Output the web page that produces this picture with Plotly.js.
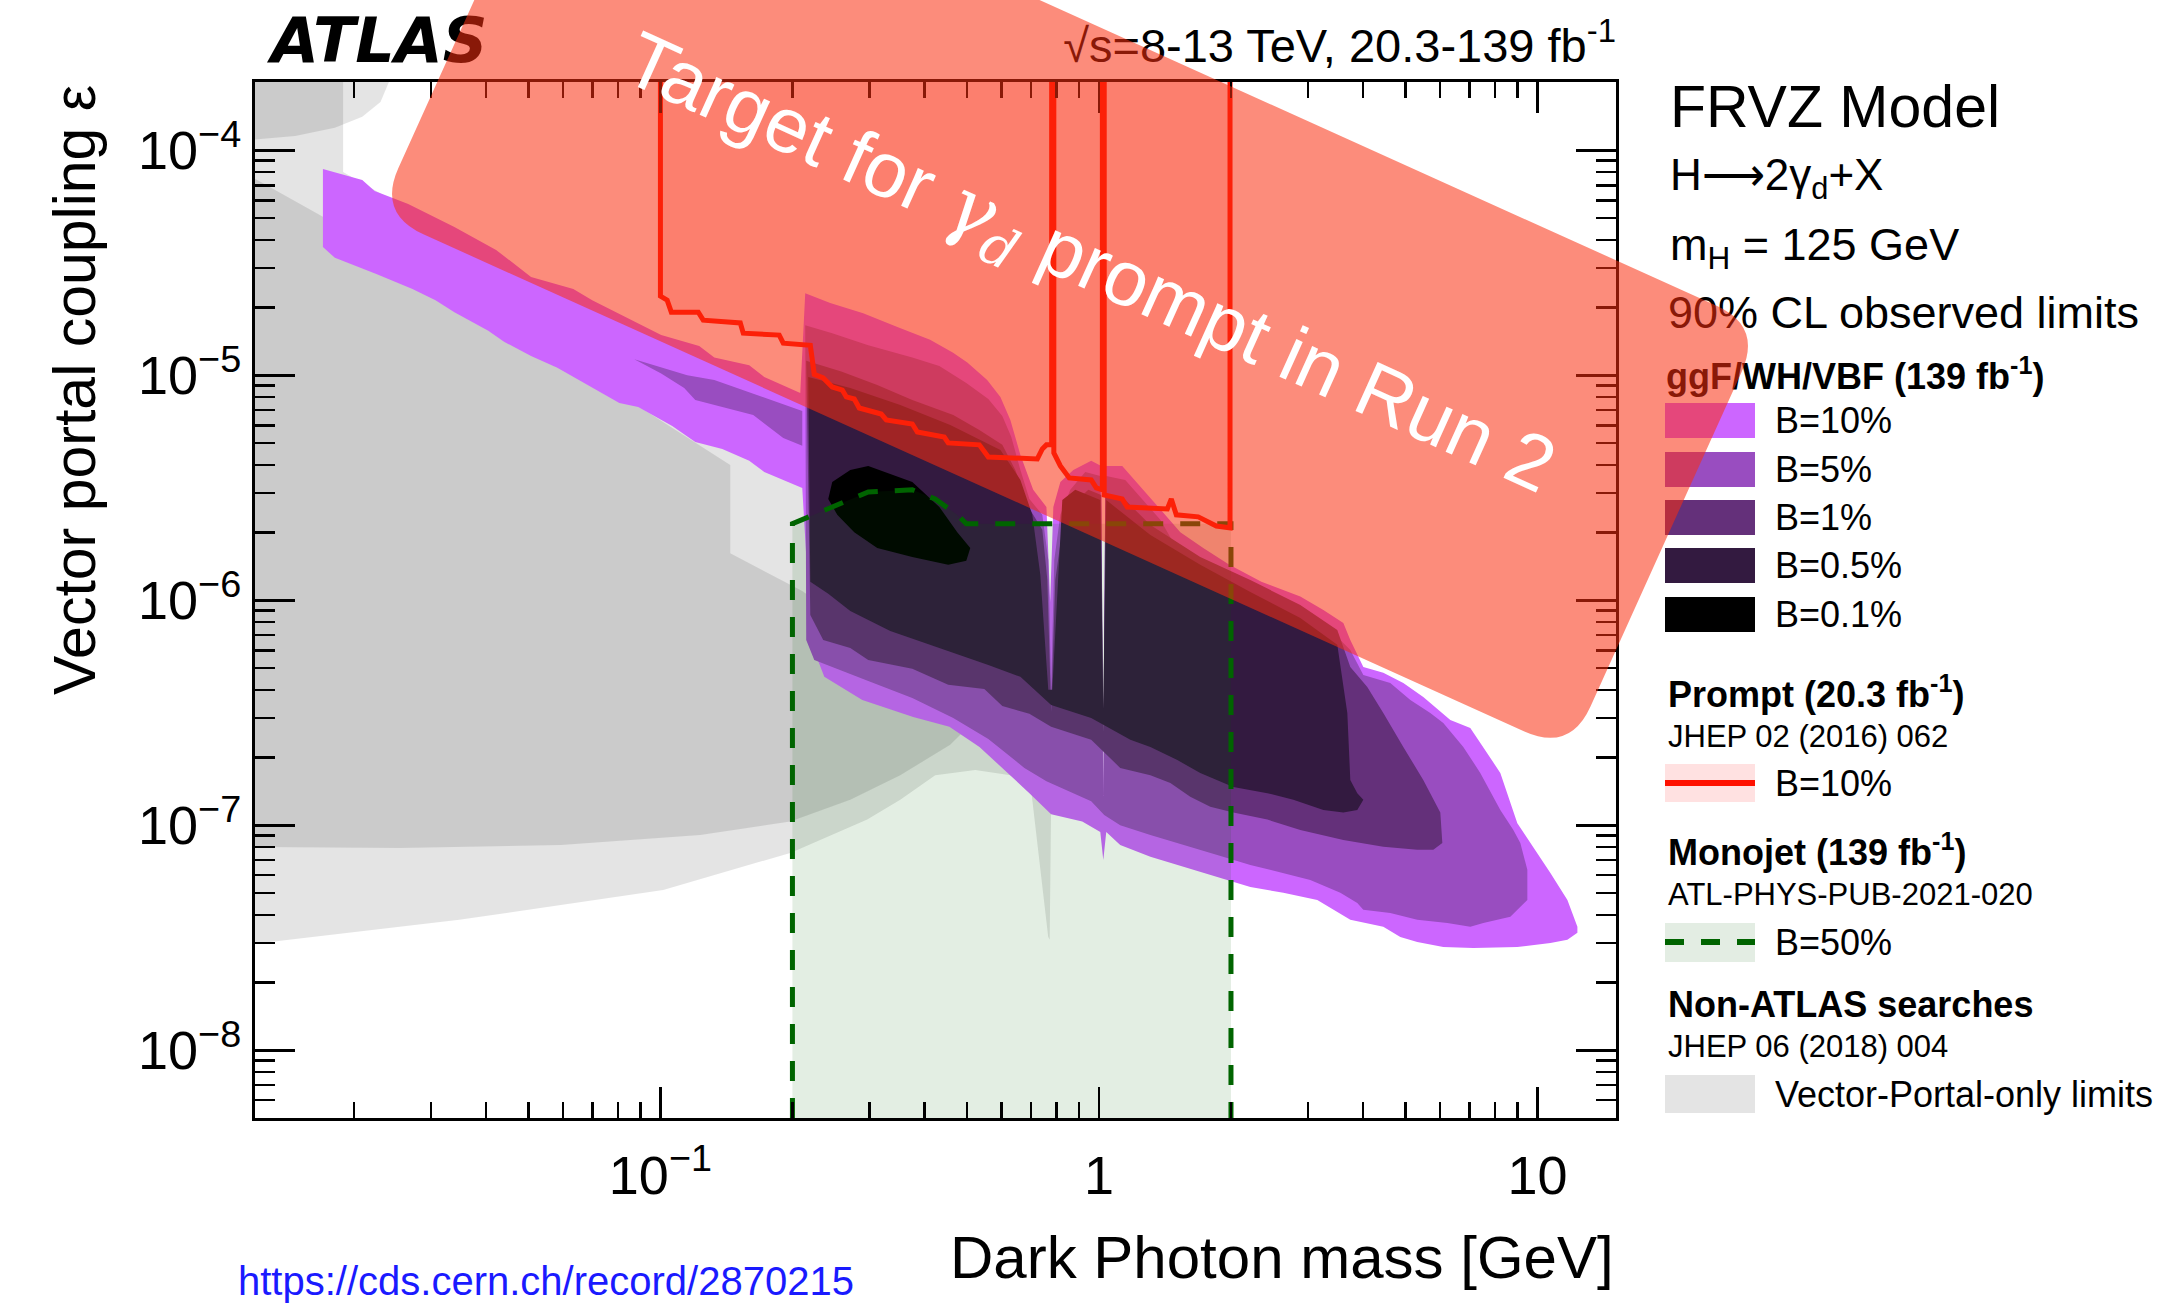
<!DOCTYPE html>
<html>
<head>
<meta charset="utf-8">
<script src="https://cdn.plot.ly/plotly-3.0.1.min.js"></script>
<style>html,body{margin:0;padding:0;background:#fff;}</style>
</head>
<body>
<div id="chart" style="width:2177px;height:1306px;"></div>
<script>
// ---------------- Exclusion contours (mass in GeV, kinetic mixing epsilon) ----------------
// ggF/WH/VBF, B = 10 %
const b10Mass = [0.0170,0.0209,0.0223,0.0266,0.0339,0.0422,0.0507,0.0633,0.0699,0.0854,0.1004,0.1226,0.1327,0.1594,0.1725,0.2084,
  0.2139,0.2439,0.290,0.347,0.412,0.465,0.501,0.556,0.596,0.628,0.662,0.708,0.759,0.774,0.787,0.8165,0.874,0.960,1.012,1.023,1.034,1.130,1.216,1.366,1.533,1.729,1.983,2.346,2.878,3.249,3.608,3.742,4.007,4.450,4.943,5.489,6.327,7.027,7.523,8.226,8.995,9.784,10.70,11.70,12.33,
  12.33,11.70,10.70,8.995,7.14,6.098,5.319,4.866,4.450,3.742,3.147,2.633,2.214,1.861,1.557,1.310,1.118,1.039,1.023,1.007,0.916,0.778,0.694,0.602,0.534,0.456,0.377,0.2886,0.2364,0.2208,0.2150,0.2106,
  0.1725,0.1594,0.1384,0.1201,0.1064,0.0890,0.0806,0.0699,0.0582,0.0507,0.0440,0.0405,0.0339,0.0307,0.0272,0.0225,0.0181,0.0170];
const b10Eps = [8.27e-5,7.39e-5,6.60e-5,5.78e-5,4.57e-5,3.61e-5,2.74e-5,2.42e-5,2.16e-5,1.78e-5,1.51e-5,1.35e-5,1.20e-5,1.11e-5,9.84e-6,8.35e-6,
  2.32e-5,2.10e-5,1.89e-5,1.64e-5,1.44e-5,1.26e-5,1.14e-5,9.54e-6,8.02e-6,6.34e-6,4.43e-6,3.10e-6,2.60e-6,9.84e-7,2.60e-6,3.36e-6,3.80e-6,4.17e-6,3.96e-6,1.30e-7,3.96e-6,3.96e-6,3.36e-6,2.60e-6,2.01e-6,1.71e-6,1.44e-6,1.21e-6,1.04e-6,9.07e-7,7.94e-7,6.67e-7,5.06e-7,4.76e-7,4.29e-7,3.72e-7,2.94e-7,2.71e-7,2.23e-7,1.71e-7,1.02e-7,8.02e-8,6.14e-8,4.66e-8,3.54e-8,
  3.33e-8,3.10e-8,3.00e-8,2.88e-8,2.85e-8,2.88e-8,3.03e-8,3.19e-8,3.54e-8,3.80e-8,4.66e-8,5.01e-8,5.32e-8,5.90e-8,6.53e-8,7.24e-8,8.18e-8,9.35e-8,7.02e-8,9.35e-8,1.04e-7,1.12e-7,1.39e-7,1.80e-7,2.23e-7,2.74e-7,3.03e-7,3.61e-7,4.57e-7,6.47e-7,1.51e-6,3.16e-6,
  3.72e-6,4.17e-6,4.71e-6,5.06e-6,5.96e-6,7.24e-6,7.54e-6,8.79e-6,1.08e-5,1.22e-5,1.41e-5,1.58e-5,1.91e-5,2.16e-5,2.42e-5,2.82e-5,3.33e-5,3.72e-5];

// B = 5 %: small low-mass island and main region
const b5IslandMass = [0.0872,0.1151,0.1327,0.1799,0.2106,0.2106,0.1906,0.1628,0.1201,0.1133,0.1004];
const b5IslandEps  = [1.18e-5,1.00e-5,9.54e-6,7.77e-6,6.95e-6,4.86e-6,5.27e-6,6.67e-6,7.77e-6,8.79e-6,1.02e-5];
const b5Mass = [0.2139,0.2465,0.2978,0.3753,0.4325,0.4983,0.5594,0.602,0.6311,0.662,0.694,0.7427,0.7663,0.778,0.7909,0.8165,0.8603,0.9307,1.007,1.023,
  1.039,1.148,1.242,1.380,1.557,1.861,2.214,2.633,3.033,3.423,3.742,4.007,4.616,5.129,5.695,6.098,6.773,7.404,8.226,8.808,9.137,9.480,
  9.480,8.670,7.523,7.027,6.229,5.319,4.616,4.007,3.882,3.551,3.033,2.633,2.214,1.861,1.557,1.310,1.118,1.028,0.960,0.759,0.676,0.5594,0.4653,0.3753,0.2978,0.2243,0.2150];
const b5Eps = [1.67e-5,1.54e-5,1.36e-5,1.20e-5,1.10e-5,9.25e-6,7.85e-6,6.60e-6,5.32e-6,3.80e-6,2.82e-6,2.40e-6,1.51e-6,4.0e-7,1.51e-6,2.40e-6,3.10e-6,3.72e-6,3.57e-6,1.35e-7,
  3.57e-6,3.43e-6,2.88e-6,2.28e-6,1.51e-6,1.27e-6,1.11e-6,9.35e-7,7.94e-7,7.16e-7,6.02e-7,4.66e-7,4.29e-7,3.61e-7,3.16e-7,2.85e-7,2.23e-7,1.71e-7,1.17e-7,9.54e-8,8.35e-8,6.34e-8,
  4.66e-8,3.92e-8,3.68e-8,3.54e-8,3.68e-8,3.80e-8,4.08e-8,4.21e-8,4.52e-8,5.01e-8,5.72e-8,6.14e-8,6.67e-8,7.38e-8,8.18e-8,9.06e-8,1.00e-7,1.11e-7,1.28e-7,1.57e-7,1.80e-7,2.42e-7,3.00e-7,3.68e-7,4.38e-7,5.43e-7,6.67e-7];

// B = 1 %
const b1Mass = [0.2150,0.2585,0.3122,0.3753,0.4653,0.5336,0.602,0.6445,0.6973,0.7427,0.7626,0.778,0.7951,0.8249,0.8694,0.9456,1.012,1.023,1.034,1.148,
  1.310,1.702,2.214,2.878,3.495,3.742,4.091,4.450,4.943,5.489,6.003,6.067,5.787,5.319,4.450,3.608,2.878,2.421,2.025,1.794,
  1.615,1.455,1.310,1.118,0.960,0.778,0.694,0.602,0.5478,0.4532,0.3753,0.2978,0.2710,0.2351,0.2197];
const b1Eps = [1.16e-5,1.04e-5,9.06e-6,7.77e-6,6.67e-6,5.72e-6,4.91e-6,3.80e-6,2.52e-6,2.06e-6,1.23e-6,3.2e-7,1.23e-6,2.06e-6,2.65e-6,3.10e-6,2.94e-6,2.6e-7,2.94e-6,2.79e-6,
  2.16e-6,1.56e-6,1.23e-6,9.54e-7,7.38e-7,5.06e-7,4.12e-7,3.16e-7,2.23e-7,1.59e-7,1.14e-7,8.35e-8,7.78e-8,7.78e-8,8.02e-8,8.61e-8,9.54e-8,1.06e-7,1.14e-7,1.21e-7,
  1.34e-7,1.54e-7,1.67e-7,1.80e-7,2.40e-7,2.74e-7,3.13e-7,3.39e-7,4.04e-7,4.21e-7,4.96e-7,5.43e-7,6.14e-7,6.67e-7,8.61e-7];

// B = 0.5 %
const b05Mass = [0.2173,0.2710,0.3523,0.4580,0.596,0.662,0.7047,0.7349,0.7663,0.7828,0.8249,0.8830,1.007,1.023,1.039,1.310,1.702,2.214,2.878,3.495,
  3.684,3.742,3.882,4.007,3.882,3.608,3.249,2.775,2.421,2.025,1.702,1.509,1.310,1.179,0.960,0.778,0.662,0.5594,0.4325,0.3343,0.2710,0.2414,0.2197];
const b05Eps = [9.84e-6,8.79e-6,7.38e-6,6.02e-6,4.66e-6,3.43e-6,2.40e-6,1.3e-6,4.0e-7,4.0e-7,2.79e-6,3.10e-6,2.79e-6,3.3e-7,2.79e-6,1.95e-6,1.44e-6,1.09e-6,8.35e-7,6.34e-7,
  3.16e-7,1.59e-7,1.39e-7,1.30e-7,1.17e-7,1.14e-7,1.17e-7,1.30e-7,1.39e-7,1.48e-7,1.71e-7,1.95e-7,2.23e-7,2.40e-7,3.00e-7,3.43e-7,4.57e-7,5.16e-7,6.14e-7,7.31e-7,8.97e-7,1.07e-6,1.21e-6];

// B = 0.1 %
const b01Mass = [0.2465,0.2710,0.2978,0.3753,0.4325,0.4752,0.5088,0.4983,0.4532,0.3753,0.3122,0.2767,0.2531,0.2414];
const b01Eps  = [3.36e-6,3.80e-6,3.96e-6,3.36e-6,2.60e-6,2.01e-6,1.71e-6,1.50e-6,1.44e-6,1.56e-6,1.71e-6,2.01e-6,2.40e-6,2.82e-6];

// Prompt search (20.3 fb-1), B = 10 %: boundary of the excluded region above
const promptMass = [0.1,0.1,0.1036,0.1059,0.1220,0.1252,0.1521,0.1545,0.1866,0.1906,0.2197,0.2243,0.2351,0.2465,0.2599,0.2654,0.2767,0.2841,0.3189,0.3273,
  0.3753,0.3853,0.4438,0.4532,0.5336,0.5594,0.7235,0.7427,0.759,0.780,0.780,0.789,0.789,0.8165,0.8555,0.960,0.986,1.018,1.018,1.028,
  1.028,1.130,1.160,1.432,1.462,1.501,1.684,1.852,1.99,1.99];
const promptEps = [2.1e-4,2.25e-5,2.16e-5,1.91e-5,1.91e-5,1.76e-5,1.71e-5,1.54e-5,1.51e-5,1.39e-5,1.36e-5,1.01e-5,9.74e-6,8.88e-6,8.61e-6,8.02e-6,7.85e-6,7.16e-6,6.73e-6,6.34e-6,
  6.08e-6,5.60e-6,5.32e-6,5.01e-6,4.91e-6,4.34e-6,4.25e-6,4.71e-6,4.91e-6,4.91e-6,2.1e-4,2.1e-4,4.52e-6,3.96e-6,3.50e-6,3.43e-6,3.16e-6,3.10e-6,2.1e-4,2.1e-4,
  2.94e-6,2.82e-6,2.60e-6,2.55e-6,2.82e-6,2.40e-6,2.35e-6,2.14e-6,2.10e-6,2.1e-4];

// Monojet (139 fb-1), B = 50 %
const monojetMass = [0.2,0.2,0.2465,0.2978,0.3753,0.4233,0.4752,0.4983,2.0,2.0];
const monojetEps  = [5e-9,2.19e-6,2.60e-6,3.03e-6,3.10e-6,2.82e-6,2.40e-6,2.19e-6,2.19e-6,5e-9];

// Non-ATLAS vector-portal-only limits (overlapping translucent regions)
const vpAMass = [0.0115,0.0189,0.0189,0.0431,0.0948,0.2106,0.4580,0.778,0.778,0.772,0.766,0.700,0.628,0.5224,0.4233,0.3523,0.2962,0.1978,0.1015,0.0348,0.0115];
const vpAEps  = [2.2e-4,2.2e-4,8.02e-5,3.19e-5,1.27e-5,4.91e-6,1.23e-6,4.43e-7,1.3e-7,3.1e-8,3.2e-8,1.45e-7,1.67e-7,1.76e-7,1.67e-7,1.30e-7,1.06e-7,7.54e-8,5.16e-8,3.80e-8,2.95e-8];
const vpBMass = [0.0115,0.0255,0.0561,0.1443,0.1443,0.2106,0.3010,0.4346,0.5364,0.4580,0.3523,0.2710,0.1978,0.1233,0.0594,0.0255,0.0115];
const vpBEps  = [7.77e-5,3.26e-5,1.30e-5,4.00e-6,1.62e-6,1.10e-6,6.67e-7,4.00e-7,3.10e-7,2.28e-7,1.67e-7,1.30e-7,1.04e-7,9.06e-8,8.18e-8,7.93e-8,8.02e-8];
const vpCMass = [0.0115,0.0245,0.0230,0.0209,0.0181,0.0147,0.0115];
const vpCEps  = [2.2e-4,2.2e-4,1.64e-4,1.41e-4,1.26e-4,1.16e-4,1.11e-4];

// Axis ticks
const xTickVals = [0.1, 1, 10];
const xTickText = ['10<sup>\u22121</sup>', '1', '10'];
const yTickVals = [1e-8, 1e-7, 1e-6, 1e-5, 1e-4];
const yTickText = ['10<sup>\u22128</sup>', '10<sup>\u22127</sup>', '10<sup>\u22126</sup>', '10<sup>\u22125</sup>', '10<sup>\u22124</sup>'];

// ---------------- Styling ----------------
const FONT = 'Liberation Sans, Arial, Helvetica, sans-serif';
const C_B10 = '#cc66ff', C_B5 = '#994dc0', C_B1 = '#64307a', C_B05 = '#331a40', C_B01 = '#000000';
const C_GREY = 'rgba(0,0,0,0.105)';
const C_MONO_FILL = 'rgba(0,100,0,0.11)';
const C_MONO_LINE = '#006400';
const C_PROMPT = '#ff1100';
const C_PROMPT_FILL = 'rgba(255,0,0,0.11)';
const C_TARGET = 'rgba(250,45,15,0.55)';

const W = 2177, H = 1306;
const plotLeft = 255, plotRight = 1616, plotTop = 82, plotBottom = 1118;
const xRange = [Math.log10(0.0119), Math.log10(15.1)];
const yRange = [Math.log10(5e-9), Math.log10(2.014e-4)];

function minorTicks(lo, hi) {
  const v = [];
  for (let e = lo; e <= hi; e++) for (let k = 2; k <= 9; k++) v.push(k * Math.pow(10, e));
  return v;
}
const xMinor = minorTicks(-2, 0).filter(v => v > 0.0119 && v < 15.1);
const yMinor = minorTicks(-9, -5).filter(v => v > 5.01e-9 && v < 2.0e-4);

function region(mass, eps, color) {
  return { type: 'scatter', x: mass, y: eps, mode: 'lines', fill: 'toself', fillcolor: color,
           line: { width: 0 }, hoverinfo: 'skip', showlegend: false, xaxis: 'x', yaxis: 'y' };
}
// text placed on the full-page overlay axes, so that the translucent band can cover it
function coveredLabel(x, y, text, size, pos, family) {
  return { type: 'scatter', xaxis: 'x2', yaxis: 'y2', x: [x], y: [y], mode: 'text', text: [text],
           textposition: pos || 'middle right', cliponaxis: false, hoverinfo: 'skip', showlegend: false,
           textfont: { family: family || FONT, size: size, color: '#000' } };
}
// ordinary page text
function note(x, y, text, size, anchor, color) {
  return { xref: 'x2', yref: 'y2', x: x, y: y, text: text, showarrow: false,
           xanchor: anchor || 'left', yanchor: 'middle', align: anchor || 'left',
           font: { family: FONT, size: size, color: color || '#000' } };
}

const traces = [
  region(vpAMass, vpAEps, C_GREY),
  region(vpBMass, vpBEps, C_GREY),
  region(vpCMass, vpCEps, C_GREY),
  region(promptMass, promptEps, C_PROMPT_FILL),
  region(b10Mass, b10Eps, C_B10),
  region(b5IslandMass, b5IslandEps, C_B5),
  region(b5Mass, b5Eps, C_B5),
  region(b1Mass, b1Eps, C_B1),
  region(b05Mass, b05Eps, C_B05),
  region(b01Mass, b01Eps, C_B01),
  region(monojetMass, monojetEps, C_MONO_FILL),
  { type: 'scatter', x: monojetMass, y: monojetEps, mode: 'lines', xaxis: 'x', yaxis: 'y',
    line: { color: C_MONO_LINE, width: 5, dash: '20px,17px' }, hoverinfo: 'skip', showlegend: false },
  { type: 'scatter', x: promptMass, y: promptEps, mode: 'lines', xaxis: 'x', yaxis: 'y',
    line: { color: C_PROMPT, width: 5 }, hoverinfo: 'skip', showlegend: false },
  // empty traces that attach the minor-tick axes to the main plot
  { type: 'scatter', x: [], y: [], xaxis: 'x3', yaxis: 'y', hoverinfo: 'skip', showlegend: false },
  { type: 'scatter', x: [], y: [], xaxis: 'x', yaxis: 'y3', hoverinfo: 'skip', showlegend: false },

  // texts partly under the translucent band
  coveredLabel(271, 46, '<b><i>ATLAS</i></b>', 62, 'middle right', 'DejaVu Sans, ' + FONT),
  coveredLabel(1616, 50, '\u221As=8-13 TeV, 20.3-139 fb<sup>-1</sup>', 47, 'middle left'),
  coveredLabel(1668, 317, '90% CL observed limits', 45),
  coveredLabel(1666, 380, '<b>ggF/WH/VBF (139 fb<sup>-1</sup>)</b>', 36)
];

// Rounded, rotated band drawn over the plot
const targetBox = { cx: 1070, cy: 270, w: 1308, h: 467, angle: 24.3, r: 50 };
function roundedBoxPath(b) {
  const c = Math.cos(b.angle * Math.PI / 180), s = Math.sin(b.angle * Math.PI / 180);
  const P = (lx, ly) => (b.cx + lx * c - ly * s).toFixed(1) + ',' + (b.cy + lx * s + ly * c).toFixed(1);
  const hw = b.w / 2, hh = b.h / 2, r = b.r;
  return 'M' + P(-hw + r, -hh) + ' L' + P(hw - r, -hh) + ' Q' + P(hw, -hh) + ' ' + P(hw, -hh + r) +
         ' L' + P(hw, hh - r) + ' Q' + P(hw, hh) + ' ' + P(hw - r, hh) +
         ' L' + P(-hw + r, hh) + ' Q' + P(-hw, hh) + ' ' + P(-hw, hh - r) +
         ' L' + P(-hw, -hh + r) + ' Q' + P(-hw, -hh) + ' ' + P(-hw + r, -hh) + ' Z';
}

function swatch(y0, y1, color) {
  return { type: 'rect', xref: 'x2', yref: 'y2', x0: 1665, x1: 1755, y0: y0, y1: y1,
           fillcolor: color, line: { width: 0 }, layer: 'above' };
}

const shapes = [
  swatch(403, 438, C_B10),
  swatch(452, 487, C_B5),
  swatch(500, 535, C_B1),
  swatch(548, 583, C_B05),
  swatch(597, 632, C_B01),
  swatch(764, 802, '#ffe1e1'),
  { type: 'line', xref: 'x2', yref: 'y2', x0: 1665, x1: 1755, y0: 783, y1: 783, line: { color: C_PROMPT, width: 6 }, layer: 'above' },
  swatch(923, 962, '#e3ede3'),
  { type: 'line', xref: 'x2', yref: 'y2', x0: 1665, x1: 1755, y0: 942, y1: 942, line: { color: C_MONO_LINE, width: 6, dash: '19px,17px' }, layer: 'above' },
  swatch(1075, 1113, '#e4e4e4'),
  { type: 'path', xref: 'x2', yref: 'y2', path: roundedBoxPath(targetBox), fillcolor: C_TARGET, line: { width: 0 }, layer: 'above' }
];

const annotations = [
  note(1668, 107, 'FRVZ Model', 59),
  note(1668, 178, 'H\u27F62\u03B3<sub>d</sub>+X', 44),
  note(1668, 247, 'm<sub>H</sub> = 125 GeV', 45),
  note(1773, 420, 'B=10%', 36),
  note(1773, 469, 'B=5%', 36),
  note(1773, 517, 'B=1%', 36),
  note(1773, 565, 'B=0.5%', 36),
  note(1773, 614, 'B=0.1%', 36),
  note(1666, 692, '<b>Prompt (20.3 fb<sup>-1</sup>)</b>', 36),
  note(1666, 736, 'JHEP 02 (2016) 062', 31),
  note(1773, 783, 'B=10%', 36),
  note(1666, 850, '<b>Monojet (139 fb<sup>-1</sup>)</b>', 36),
  note(1666, 894, 'ATL-PHYS-PUB-2021-020', 31),
  note(1773, 942, 'B=50%', 36),
  note(1666, 1004, '<b>Non-ATLAS searches</b>', 36),
  note(1666, 1046, 'JHEP 06 (2018) 004', 31),
  note(1773, 1094, 'Vector-Portal-only limits', 36),
  note(1616, 1257, 'Dark Photon mass [GeV]', 60, 'right'),
  note(236, 1281, 'https://cds.cern.ch/record/2870215', 40, 'left', '#1a1aff'),
  { xref: 'x2', yref: 'y2', x: 1088, y: 266, showarrow: false, textangle: 24.3,
    xanchor: 'center', yanchor: 'middle',
    text: "Target for <span style=\"font-family:'DejaVu Serif'\"><i>\u03B3</i><sub><i>d</i></sub></span> prompt in Run 2",
    font: { family: FONT, size: 78, color: '#ffffff' } },
  { xref: 'x2', yref: 'y2', x: 75, y: 83, showarrow: false, textangle: -90,
    xanchor: 'center', yanchor: 'top', text: 'Vector portal coupling \u03B5',
    font: { family: FONT, size: 59, color: '#000' } }
];

const axisCommon = {
  type: 'log', showline: true, linecolor: '#000', linewidth: 3, mirror: 'ticks',
  ticks: 'inside', tickwidth: 2.5, tickcolor: '#000', tickmode: 'array',
  showgrid: false, zeroline: false, automargin: false, fixedrange: true,
  tickfont: { family: FONT, size: 54, color: '#000' }
};
const xDomain = [plotLeft / W, plotRight / W];
const yDomain = [(H - plotBottom) / H, (H - plotTop) / H];

const layout = {
  width: W, height: H,
  margin: { l: 0, r: 0, t: 0, b: 0, pad: 0 },
  paper_bgcolor: '#ffffff', plot_bgcolor: 'rgba(0,0,0,0)',
  showlegend: false,
  xaxis: Object.assign({}, axisCommon, {
    domain: xDomain, anchor: 'y', range: xRange,
    ticklen: 31, tickvals: xTickVals, ticktext: xTickText, ticklabelstandoff: 8
  }),
  yaxis: Object.assign({}, axisCommon, {
    domain: yDomain, anchor: 'x', range: yRange,
    ticklen: 40, tickvals: yTickVals, ticktext: yTickText
  }),
  // minor ticks: same scales, short marks, no labels
  xaxis3: Object.assign({}, axisCommon, {
    overlaying: 'x', anchor: 'y', side: 'bottom', range: xRange,
    ticklen: 16, tickvals: xMinor, showticklabels: false
  }),
  yaxis3: Object.assign({}, axisCommon, {
    overlaying: 'y', anchor: 'x', side: 'left', range: yRange,
    ticklen: 20, tickvals: yMinor, showticklabels: false
  }),
  xaxis2: { domain: [0, 1], range: [0, W], visible: false, anchor: 'y2', fixedrange: true },
  yaxis2: { domain: [0, 1], range: [H, 0], visible: false, anchor: 'x2', fixedrange: true },
  shapes: shapes,
  annotations: annotations
};

Plotly.newPlot('chart', traces, layout, { staticPlot: true, displayModeBar: false });
</script>
</body>
</html>
